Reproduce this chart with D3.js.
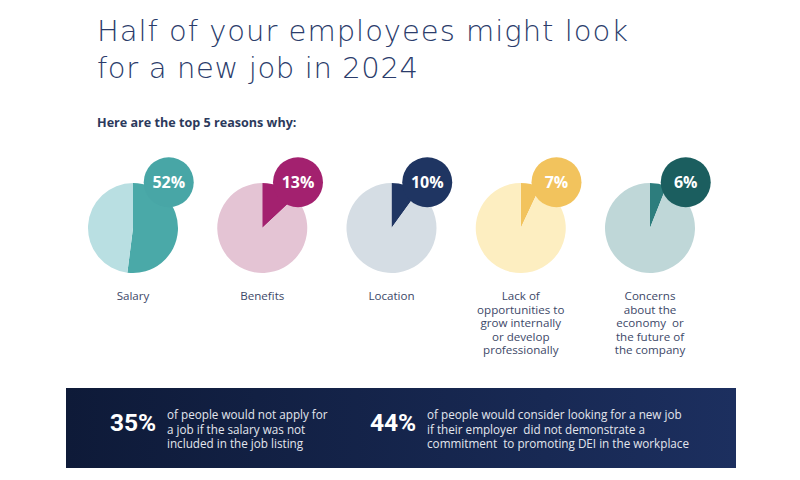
<!DOCTYPE html>
<html><head><meta charset="utf-8">
<script src="https://cdn.jsdelivr.net/npm/d3@7/dist/d3.min.js"></script>
<style>
html,body{margin:0;padding:0;background:#fff;}
svg{display:block;}
</style></head>
<body>
<svg id="chart" width="800" height="480"></svg>
<script>
// ---- data ----
const titleLines = ["Half of your employees might look", "for a new job in 2024"];
const subtitle = "Here are the top 5 reasons why:";
const categories = ["Salary", "Benefits", "Location", "Lack", "Concerns"];
const values = [52, 13, 10, 7, 6];
const labels = [
  ["Salary"],
  ["Benefits"],
  ["Location"],
  ["Lack of", "opportunities to", "grow internally", "or develop", "professionally"],
  ["Concerns", "about the", "economy  or", "the future of", "the company"]
];
const sliceColors = ["#4aa9a8", "#a3216f", "#1f3562", "#f2c35d", "#2d7d7d"];
const restColors  = ["#b9dfe2", "#e4c4d4", "#d5dde4", "#fdeec1", "#bfd7d8"];
const badgeColors = ["#48a6a6", "#a3216f", "#1f3562", "#f2c35d", "#1b5e5f"];
const statValues = ["35%", "44%"];
const statTexts = [
  ["of people would not apply for", "a job if the salary was not", "included in the job listing"],
  ["of people would consider looking for a new job", "if their employer  did not demonstrate a", "commitment  to promoting DEI in the workplace"]
];

// ---- drawing ----
const svg = d3.select("#chart");
const navy = "#2b3c6b";

// title (each line fitted to the reference's line width)
const titleWidths = [531, 321];
svg.append("g").selectAll("text").data(titleLines).join("text")
  .attr("x", 97).attr("y", (d, i) => 41 + i * 37)
  .attr("font-family", "'DejaVu Sans', sans-serif")
  .attr("font-weight", 200)
  .attr("font-size", 29)
  .attr("fill", navy)
  .text(d => d)
  .each(function(d, i) {
    const w = this.getComputedTextLength();
    d3.select(this).attr("letter-spacing", (titleWidths[i] - w) / (d.length - 1));
  });

svg.append("text")
  .attr("x", 97).attr("y", 127)
  .attr("font-family", "'Open Sans', sans-serif")
  .attr("font-weight", 700)
  .attr("font-size", 12.6)
  .attr("fill", "#2c3a5c")
  .text(subtitle);

// pies
const x = d3.scalePoint().domain(categories).range([133, 650]);
const cy = 228, R = 45, rBadge = 25;
const pie = d3.pie().sort(null).value(d => d);
const arc = d3.arc().innerRadius(0).outerRadius(R);
const badgeAngle = 38 * Math.PI / 180, badgeDist = R * 1.29;

const g = svg.append("g").selectAll("g").data(categories).join("g")
  .attr("transform", d => `translate(${x(d)},${cy})`);

g.each(function(cat, i) {
  const gi = d3.select(this);
  const arcs = pie([values[i], 100 - values[i]]);
  gi.selectAll("path").data(arcs).join("path")
    .attr("d", arc)
    .attr("fill", (d, j) => j === 0 ? sliceColors[i] : restColors[i]);
  const bx = Math.sin(badgeAngle) * badgeDist, by = -Math.cos(badgeAngle) * badgeDist;
  gi.append("circle").attr("cx", bx).attr("cy", by).attr("r", rBadge)
    .attr("fill", badgeColors[i]);
  gi.append("text").attr("x", bx).attr("y", by).attr("dy", "0.36em")
    .attr("text-anchor", "middle")
    .attr("font-family", "'Open Sans', sans-serif")
    .attr("font-weight", 700).attr("font-size", 16)
    .attr("fill", "#fff")
    .text(values[i] + "%");
  gi.append("g").selectAll("text").data(labels[i]).join("text")
    .attr("x", 0).attr("y", (d, k) => 72 + k * 13.5)
    .attr("text-anchor", "middle")
    .attr("font-family", "'Open Sans', sans-serif")
    .attr("font-size", 11.6)
    .attr("fill", "#3d4868")
    .style("white-space", "pre")
    .text(d => d);
});

// banner
const defs = svg.append("defs");
const grad = defs.append("linearGradient").attr("id", "bannerGrad")
  .attr("x1", "0%").attr("x2", "100%").attr("y1", "0%").attr("y2", "0%");
grad.append("stop").attr("offset", "0%").attr("stop-color", "#0e1a38");
grad.append("stop").attr("offset", "100%").attr("stop-color", "#1c2f5f");
svg.append("rect").attr("x", 66).attr("y", 388).attr("width", 670).attr("height", 80)
  .attr("fill", "url(#bannerGrad)");

const statX = [110, 370], statTextX = [167, 427];
statValues.forEach((v, i) => {
  svg.append("text").attr("x", statX[i]).attr("y", 431)
    .attr("font-family", "Roboto, sans-serif").attr("font-weight", 700)
    .attr("font-size", 24.5).attr("fill", "#fff").text(v);
  svg.append("g").selectAll("text").data(statTexts[i]).join("text")
    .attr("x", statTextX[i]).attr("y", (d, k) => 419 + k * 14.5)
    .attr("font-family", "'Open Sans', sans-serif")
    .attr("font-size", 11.7).attr("fill", "#e3e6ee")
    .style("white-space", "pre")
    .text(d => d);
});
</script>
</body></html>
